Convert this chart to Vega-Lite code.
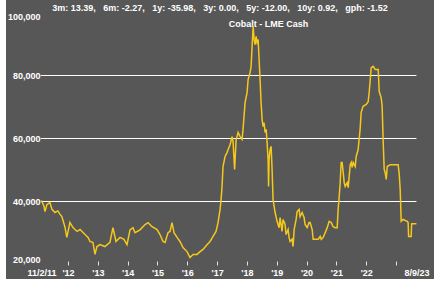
{
  "$schema": "https://vega.github.io/schema/vega-lite/v6.json",
  "width": 428,
  "height": 279,
  "autosize": "none",
  "padding": {"left": 6, "top": 0, "right": 11, "bottom": 3},
  "background": "white",
  "config": {
    "view": {"fill": "#575757", "stroke": null},
    "font": "Liberation Sans",
    "axis": {"labelOverlap": false, "labelBound": false, "labelFlush": false}
  },
  "title": {
    "text": "3m: 13.39,\u00a0\u00a0\u00a06m: -2.27,\u00a0\u00a0\u00a01y: -35.98,\u00a0\u00a0\u00a03y: 0.00,\u00a0\u00a0\u00a05y: -12.00,\u00a0\u00a0\u00a010y: 0.92,\u00a0\u00a0\u00a0gph: -1.52",
    "font": "Liberation Sans",
    "fontSize": 9,
    "fontWeight": "bold",
    "color": "white",
    "anchor": "middle",
    "frame": "group",
    "baseline": "middle",
    "offset": -17
  },
  "encoding": {
    "y": {
      "field": "v",
      "type": "quantitative",
      "scale": {"domain": [15397, 103968], "nice": false, "zero": false},
      "axis": {
        "title": null,
        "values": [20000, 40000, 60000, 80000, 100000],
        "tickCount": 20,
        "format": ",d",
        "offset": -37,
        "domain": false,
        "ticks": false,
        "grid": false,
        "labelPadding": 3,
        "labelColor": "white",
        "labelFont": "Liberation Sans",
        "labelFontWeight": "bold",
        "labelFontSize": 9,
        "labelBaseline": {
          "condition": [
            {"test": "datum.value >= 100000", "value": "top"},
            {"test": "datum.value <= 20000", "value": "bottom"}
          ],
          "value": "middle"
        }
      }
    }
  },
  "layer": [
    {
      "data": {"values": [{"v": 40000}, {"v": 60000}, {"v": 80000}]},
      "mark": {"type": "rule", "color": "#ffffff", "strokeWidth": 1},
      "encoding": {
        "x": {
          "datum": {"year": 2011, "month": 2, "date": 1},
          "type": "temporal",
          "scale": {"domain": [{"year": 2009, "month": 12, "date": 3}, {"year": 2024, "month": 4, "date": 10}], "nice": false},
          "axis": {
            "title": "Cobalt - LME Cash",
            "titleColor": "white",
            "titleFont": "Liberation Sans",
            "titleFontWeight": "bold",
            "titleFontSize": 9,
            "titleAnchor": "start",
            "titleAlign": "center",
            "titleBaseline": "middle",
            "titleX": 262,
            "titleY": -238,
            "tickCount": 40,
            "values": [
              {"year": 2011, "month": 2, "date": 11},
              {"year": 2012, "month": 1, "date": 1},
              {"year": 2013, "month": 1, "date": 1},
              {"year": 2014, "month": 1, "date": 1},
              {"year": 2015, "month": 1, "date": 1},
              {"year": 2016, "month": 1, "date": 1},
              {"year": 2017, "month": 1, "date": 1},
              {"year": 2018, "month": 1, "date": 1},
              {"year": 2019, "month": 1, "date": 1},
              {"year": 2020, "month": 1, "date": 1},
              {"year": 2021, "month": 1, "date": 1},
              {"year": 2022, "month": 1, "date": 1},
              {"year": 2023, "month": 1, "date": 1},
              {"year": 2023, "month": 9, "date": 8}
            ],
            "labelExpr": "(datum.value < datetime(2011,11,1) || datum.value > datetime(2023,5,1)) ? timeFormat(datum.value, '%-d/%-m/%y') : (year(datum.value) == 2023 ? '' : timeFormat(datum.value, \"'%y\"))",
            "offset": -18,
            "domain": false,
            "grid": false,
            "tickSize": 4,
            "tickWidth": 1,
            "tickColor": "#e0e0e0",
            "tickOpacity": {
              "condition": {"test": "datum.value < datetime(2011,11,1) || datum.value > datetime(2023,5,1)", "value": 0},
              "value": 1
            },
            "labelPadding": 3,
            "labelColor": "white",
            "labelFont": "Liberation Sans",
            "labelFontWeight": "bold",
            "labelFontSize": 9,
            "labelOverlap": false,
            "labelBound": false,
            "labelFlush": false
          }
        },
        "x2": {"datum": {"year": 2023, "month": 9, "date": 8}}
      }
    },
    {
      "data": {"values": [
        {"date": "2011-02-11", "v": 40300},
        {"date": "2011-03-13", "v": 38500},
        {"date": "2011-03-25", "v": 36800},
        {"date": "2011-04-18", "v": 39000},
        {"date": "2011-05-25", "v": 39700},
        {"date": "2011-06-19", "v": 37500},
        {"date": "2011-07-25", "v": 36500},
        {"date": "2011-08-30", "v": 37000},
        {"date": "2011-09-24", "v": 36000},
        {"date": "2011-10-18", "v": 35200},
        {"date": "2011-11-24", "v": 32000},
        {"date": "2011-12-18", "v": 28600},
        {"date": "2012-01-25", "v": 33300},
        {"date": "2012-03-03", "v": 31700},
        {"date": "2012-04-21", "v": 30500},
        {"date": "2012-05-28", "v": 31100},
        {"date": "2012-07-28", "v": 29500},
        {"date": "2012-09-03", "v": 28600},
        {"date": "2012-09-27", "v": 27300},
        {"date": "2012-11-02", "v": 27000},
        {"date": "2012-11-27", "v": 23200},
        {"date": "2012-12-21", "v": 25700},
        {"date": "2013-01-27", "v": 26300},
        {"date": "2013-03-28", "v": 25700},
        {"date": "2013-05-29", "v": 27000},
        {"date": "2013-07-05", "v": 31700},
        {"date": "2013-08-11", "v": 27300},
        {"date": "2013-09-29", "v": 28600},
        {"date": "2013-11-17", "v": 28000},
        {"date": "2013-12-24", "v": 26300},
        {"date": "2014-01-30", "v": 31000},
        {"date": "2014-03-07", "v": 31700},
        {"date": "2014-04-01", "v": 30100},
        {"date": "2014-06-01", "v": 31000},
        {"date": "2014-08-02", "v": 32700},
        {"date": "2014-09-08", "v": 33300},
        {"date": "2014-10-27", "v": 32000},
        {"date": "2014-12-27", "v": 31100},
        {"date": "2015-02-01", "v": 29500},
        {"date": "2015-03-10", "v": 27300},
        {"date": "2015-04-04", "v": 27000},
        {"date": "2015-05-10", "v": 30100},
        {"date": "2015-06-04", "v": 30500},
        {"date": "2015-06-28", "v": 33300},
        {"date": "2015-07-23", "v": 30100},
        {"date": "2015-08-29", "v": 28600},
        {"date": "2015-10-04", "v": 27300},
        {"date": "2015-11-10", "v": 25400},
        {"date": "2015-12-29", "v": 24100},
        {"date": "2016-02-04", "v": 22200},
        {"date": "2016-03-12", "v": 23200},
        {"date": "2016-04-30", "v": 23200},
        {"date": "2016-06-06", "v": 24100},
        {"date": "2016-07-12", "v": 24800},
        {"date": "2016-08-30", "v": 26300},
        {"date": "2016-10-06", "v": 27300},
        {"date": "2016-11-12", "v": 28900},
        {"date": "2016-12-18", "v": 30500},
        {"date": "2017-01-12", "v": 33300},
        {"date": "2017-02-06", "v": 37500},
        {"date": "2017-02-18", "v": 40600},
        {"date": "2017-03-02", "v": 44800},
        {"date": "2017-03-14", "v": 51100},
        {"date": "2017-04-08", "v": 54300},
        {"date": "2017-05-03", "v": 55600},
        {"date": "2017-05-15", "v": 56500},
        {"date": "2017-06-09", "v": 58100},
        {"date": "2017-07-03", "v": 60600},
        {"date": "2017-07-15", "v": 59000},
        {"date": "2017-08-03", "v": 50200},
        {"date": "2017-08-21", "v": 59500},
        {"date": "2017-09-15", "v": 61900},
        {"date": "2017-10-09", "v": 60600},
        {"date": "2017-11-02", "v": 59700},
        {"date": "2017-11-14", "v": 62900},
        {"date": "2017-12-09", "v": 71400},
        {"date": "2018-01-03", "v": 74600},
        {"date": "2018-01-15", "v": 78700},
        {"date": "2018-02-09", "v": 81000},
        {"date": "2018-02-21", "v": 82900},
        {"date": "2018-03-05", "v": 89200},
        {"date": "2018-03-18", "v": 95600},
        {"date": "2018-03-30", "v": 91400},
        {"date": "2018-04-11", "v": 89800},
        {"date": "2018-04-23", "v": 92400},
        {"date": "2018-05-05", "v": 90500},
        {"date": "2018-05-18", "v": 91400},
        {"date": "2018-05-30", "v": 85100},
        {"date": "2018-06-11", "v": 78700},
        {"date": "2018-06-23", "v": 71400},
        {"date": "2018-07-06", "v": 66000},
        {"date": "2018-07-18", "v": 63800},
        {"date": "2018-07-30", "v": 65000},
        {"date": "2018-08-11", "v": 61900},
        {"date": "2018-08-24", "v": 62900},
        {"date": "2018-09-05", "v": 58700},
        {"date": "2018-09-17", "v": 53300},
        {"date": "2018-09-23", "v": 44800},
        {"date": "2018-09-29", "v": 53300},
        {"date": "2018-10-12", "v": 56500},
        {"date": "2018-10-24", "v": 57500},
        {"date": "2018-11-05", "v": 50200},
        {"date": "2018-11-17", "v": 40600},
        {"date": "2018-12-12", "v": 36500},
        {"date": "2019-01-05", "v": 33700},
        {"date": "2019-01-30", "v": 31700},
        {"date": "2019-02-11", "v": 34900},
        {"date": "2019-03-07", "v": 30500},
        {"date": "2019-03-19", "v": 34300},
        {"date": "2019-04-13", "v": 32700},
        {"date": "2019-04-25", "v": 29500},
        {"date": "2019-05-20", "v": 31100},
        {"date": "2019-06-01", "v": 28600},
        {"date": "2019-06-13", "v": 27300},
        {"date": "2019-07-08", "v": 28000},
        {"date": "2019-07-20", "v": 25700},
        {"date": "2019-08-02", "v": 31100},
        {"date": "2019-08-26", "v": 34300},
        {"date": "2019-09-08", "v": 36800},
        {"date": "2019-10-02", "v": 37500},
        {"date": "2019-10-14", "v": 35200},
        {"date": "2019-11-08", "v": 36500},
        {"date": "2019-12-02", "v": 34900},
        {"date": "2019-12-14", "v": 32700},
        {"date": "2020-01-08", "v": 31700},
        {"date": "2020-02-01", "v": 33300},
        {"date": "2020-02-14", "v": 33300},
        {"date": "2020-03-10", "v": 31100},
        {"date": "2020-03-22", "v": 28000},
        {"date": "2020-05-23", "v": 28000},
        {"date": "2020-06-16", "v": 28900},
        {"date": "2020-06-29", "v": 28000},
        {"date": "2020-07-23", "v": 28600},
        {"date": "2020-08-16", "v": 30100},
        {"date": "2020-09-10", "v": 31700},
        {"date": "2020-10-04", "v": 33700},
        {"date": "2020-10-29", "v": 33300},
        {"date": "2020-11-22", "v": 32000},
        {"date": "2020-12-17", "v": 31700},
        {"date": "2021-01-10", "v": 31700},
        {"date": "2021-01-22", "v": 37500},
        {"date": "2021-02-04", "v": 41600},
        {"date": "2021-02-16", "v": 46000},
        {"date": "2021-02-28", "v": 52400},
        {"date": "2021-03-12", "v": 52400},
        {"date": "2021-03-25", "v": 49200},
        {"date": "2021-04-06", "v": 46000},
        {"date": "2021-04-18", "v": 44800},
        {"date": "2021-05-13", "v": 46000},
        {"date": "2021-05-25", "v": 44400},
        {"date": "2021-06-06", "v": 47900},
        {"date": "2021-06-19", "v": 51700},
        {"date": "2021-07-01", "v": 52400},
        {"date": "2021-07-13", "v": 50800},
        {"date": "2021-07-25", "v": 52400},
        {"date": "2021-08-19", "v": 51100},
        {"date": "2021-08-31", "v": 54300},
        {"date": "2021-09-24", "v": 56500},
        {"date": "2021-10-06", "v": 59700},
        {"date": "2021-10-18", "v": 62900},
        {"date": "2021-10-31", "v": 68300},
        {"date": "2021-11-24", "v": 70200},
        {"date": "2022-01-01", "v": 70800},
        {"date": "2022-01-25", "v": 71700},
        {"date": "2022-02-06", "v": 74600},
        {"date": "2022-02-19", "v": 78700},
        {"date": "2022-03-03", "v": 82500},
        {"date": "2022-03-27", "v": 82900},
        {"date": "2022-04-21", "v": 81900},
        {"date": "2022-05-28", "v": 81900},
        {"date": "2022-06-09", "v": 74900},
        {"date": "2022-07-03", "v": 73000},
        {"date": "2022-07-15", "v": 70200},
        {"date": "2022-07-28", "v": 58700},
        {"date": "2022-08-09", "v": 50200},
        {"date": "2022-08-21", "v": 49200},
        {"date": "2022-09-03", "v": 47000},
        {"date": "2022-09-15", "v": 51100},
        {"date": "2022-10-22", "v": 51700},
        {"date": "2023-01-27", "v": 51700},
        {"date": "2023-02-09", "v": 48600},
        {"date": "2023-02-21", "v": 43800},
        {"date": "2023-03-05", "v": 33700},
        {"date": "2023-03-29", "v": 34300},
        {"date": "2023-05-17", "v": 33700},
        {"date": "2023-05-29", "v": 33300},
        {"date": "2023-06-04", "v": 28900},
        {"date": "2023-07-05", "v": 28900},
        {"date": "2023-07-11", "v": 32900},
        {"date": "2023-09-08", "v": 32900}
      ]},
      "mark": {"type": "line", "color": "#f5c81c", "strokeWidth": 1.5, "interpolate": "linear"},
      "encoding": {
        "x": {"field": "date", "type": "temporal"},
        "y": {"field": "v", "type": "quantitative"}
      }
    }
  ]
}
